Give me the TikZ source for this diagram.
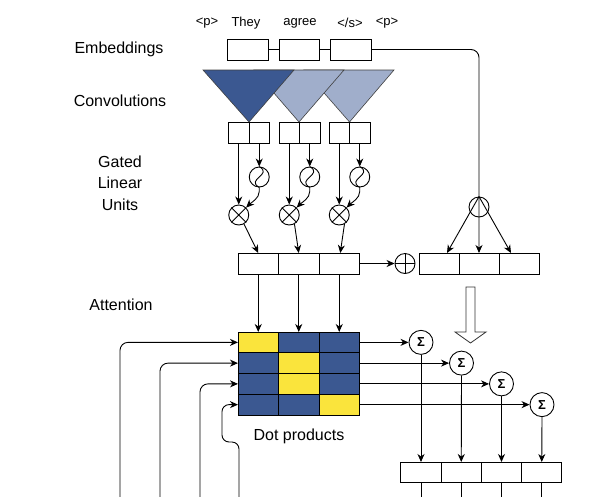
\documentclass[tikz,border=0pt]{standalone}
\usepackage{fontspec}
\setmainfont{Liberation Sans}
\usetikzlibrary{arrows.meta}
\definecolor{dkblue}{RGB}{59,88,145}
\definecolor{ltblue}{RGB}{160,174,203}
\definecolor{ylw}{RGB}{250,228,60}
\begin{document}
\begin{tikzpicture}[x=1pt,y=-1pt, line width=0.9pt,
  arr/.style={-{Stealth[length=8pt,width=7pt,inset=2.5pt]}},
  cell/.style={draw, minimum width=40pt, minimum height=21pt, inner sep=0pt, outer sep=0pt},
  conv/.style={cell, minimum width=20.5pt},
  gcell/.style={cell, minimum width=40.5pt},
  mcell/.style={draw, fill=dkblue, minimum width=40.5pt, minimum height=20.75pt, inner sep=0pt, outer sep=0pt},
  ycell/.style={mcell, fill=ylw},
  bcell/.style={cell, minimum width=40.25pt, minimum height=20pt},
  circ/.style={draw, circle, minimum size=20pt, inner sep=0pt},
  sumc/.style={draw, circle, minimum size=24pt, inner sep=0pt, font=\fontsize{13}{13}\selectfont},
  lbl/.style={font=\fontsize{16}{18}\selectfont, align=center, inner sep=0pt},
  tok/.style={font=\fontsize{13}{15}\selectfont, inner sep=0pt},
  tri/.style={draw=black!75, line width=0.6pt}]
\useasboundingbox (0,0) rectangle (602,496);

% labels
\node[lbl] (lemb) at (119,49) {Embeddings};
\node[lbl] (lconv) at (120,101) {Convolutions};
\node[lbl, font=\fontsize{16}{21.5}\selectfont] (lglu) at (120,183) {Gated\\Linear\\Units};
\node[lbl] (latt) at (121,304.5) {Attention};
\node[lbl] (ldot) at (299,436) {Dot products};

% tokens
\node[tok] (t1) at (207,23) {<p>};
\node[tok] (t2) at (246,23) {They};
\node[tok] (t3) at (300,23) {agree};
\node[tok] (t4) at (350,23) {</s>};
\node[tok] (t5) at (387,23) {<p>};

% embeddings
\node[cell, minimum width=41pt] (e1) at (248,49.5) {};
\node[cell] (e2) at (299,49.5) {};
\node[cell, minimum width=41pt] (e3) at (350.5,49.5) {};
\draw (e1) -- (e2);
\draw (e2) -- (e3);

% convolution triangles
\filldraw[tri, fill=ltblue] (304,70) -- (394,70) -- (349.5,122) -- cycle;
\filldraw[tri, fill=ltblue] (254,70) -- (344,70) -- (299,122) -- cycle;
\filldraw[tri, fill=dkblue] (203,70) -- (294,70) -- (249,122) -- cycle;

% conv boxes
\node[conv] (c1a) at (238.75,132.5) {};
\node[conv] (c1b) at (259.25,132.5) {};
\node[conv] (c2a) at (289.25,132.5) {};
\node[conv] (c2b) at (309.75,132.5) {};
\node[conv] (c3a) at (339.25,132.5) {};
\node[conv] (c3b) at (359.75,132.5) {};

% GLU
\foreach \i/\xa/\xb in {1/238.75/259.25, 2/289.25/309.75, 3/339.25/359.75}{
  \node[circ] (s\i) at (\xb,177) {};
  \draw (s\i.north) .. controls +(14,8) and +(-14,-8) .. (s\i.south);
  \node[circ] (x\i) at (\xa,215) {};
  \draw (x\i.45) -- (x\i.225) (x\i.135) -- (x\i.-45);
}
\draw[arr] (c1a.south) -- (x1.north);
\draw[arr] (c1b.south) -- (s1.north);
\draw[arr] (c2a.south) -- (x2.north);
\draw[arr] (c2b.south) -- (s2.north);
\draw[arr] (c3a.south) -- (x3.north);
\draw[arr] (c3b.south) -- (s3.north);
\foreach \i in {1,2,3}{
  \draw[arr] (s\i.south) -- ++(0,4) .. controls +(0,7) and +(5,-5) .. (x\i.45);
}

% gated outputs
\node[gcell] (g1) at (258.25,263.5) {};
\node[gcell] (g2) at (298.75,263.5) {};
\node[gcell] (g3) at (339.25,263.5) {};
\draw[arr] (x1.-60) -- (g1.north);
\draw[arr] (x2.-60) -- (g2.north);
\draw[arr] (x3.-60) -- ([xshift=1pt]g3.north);

% plus
\node[circ] (pl) at (405,263.5) {};
\draw (pl.north) -- (pl.south) (pl.east) -- (pl.west);
\draw[arr] (g3.east) -- (pl.west);

% right boxes
\node[cell] (r1) at (439,263.5) {};
\node[cell] (r2) at (479,263.5) {};
\node[cell] (r3) at (519,263.5) {};
\draw[arr, rounded corners=8pt] (e3.east) -| (r2.north);
\node[circ] (bc) at (479,207) {};
\draw[arr] (bc.north) -- ([xshift=8pt]r1.north);
\draw[arr] (bc.north) -- ([xshift=-8pt]r3.north);

% hollow arrow
\draw[line width=0.8pt, draw=black!80, fill=white] (466,287) -- (475,287) -- (475,332) -- (486,332) -- (470.5,343) -- (455,332) -- (466,332) -- cycle;

% matrix
\node[ycell] (m11) at (258.25,342.375) {};
\node[mcell] (m12) at (298.75,342.375) {};
\node[mcell] (m13) at (339.25,342.375) {};
\node[mcell] (m21) at (258.25,363.125) {};
\node[ycell] (m22) at (298.75,363.125) {};
\node[mcell] (m23) at (339.25,363.125) {};
\node[mcell] (m31) at (258.25,383.875) {};
\node[ycell] (m32) at (298.75,383.875) {};
\node[mcell] (m33) at (339.25,383.875) {};
\node[mcell] (m41) at (258.25,404.625) {};
\node[mcell] (m42) at (298.75,404.625) {};
\node[ycell] (m43) at (339.25,404.625) {};
\draw[arr] (g1.south) -- (m11.north);
\draw[arr] (g2.south) -- (m12.north);
\draw[arr] (g3.south) -- (m13.north);

% left arrows
\coordinate (l1) at (120,500);
\coordinate (l2) at (160,500);
\coordinate (l3) at (200,500);
\coordinate (l4) at (239,500);
\coordinate (k4) at (222,442);
\draw[arr, rounded corners=8pt] (l1) |- (m11.west);
\draw[arr, rounded corners=8pt] (l2) |- (m21.west);
\draw[arr, rounded corners=8pt] (l3) |- (m31.west);
\draw[arr, rounded corners=7pt] (l4) |- (k4) |- (m41.west);

% sums
\node[sumc] (S1) at (421,342.375) {\textbf{Σ}};
\node[sumc] (S2) at (461.5,363.125) {\textbf{Σ}};
\node[sumc] (S3) at (501.5,383.875) {\textbf{Σ}};
\node[sumc] (S4) at (542,404.625) {\textbf{Σ}};
\draw[arr] (m13.east) -- (S1.west);
\draw[arr] (m23.east) -- (S2.west);
\draw[arr] (m33.east) -- (S3.west);
\draw[arr] (m43.east) -- (S4.west);

% bottom boxes
\node[bcell] (b1) at (421,472) {};
\node[bcell] (b2) at (461.25,472) {};
\node[bcell] (b3) at (501.5,472) {};
\node[bcell] (b4) at (541.75,472) {};
\draw[arr] (S1.south) -- (b1.north);
\draw[arr] (S2.south) -- (b2.north);
\draw[arr] (S3.south) -- (b3.north);
\draw[arr] (S4.south) -- (b4.north);
\coordinate (o1) at (421,500);
\coordinate (o2) at (461.25,500);
\coordinate (o3) at (501.5,500);
\coordinate (o4) at (541.75,500);
\draw (b1.south) -- (o1);
\draw (b2.south) -- (o2);
\draw (b3.south) -- (o3);
\draw (b4.south) -- (o4);
\end{tikzpicture}
\end{document}
